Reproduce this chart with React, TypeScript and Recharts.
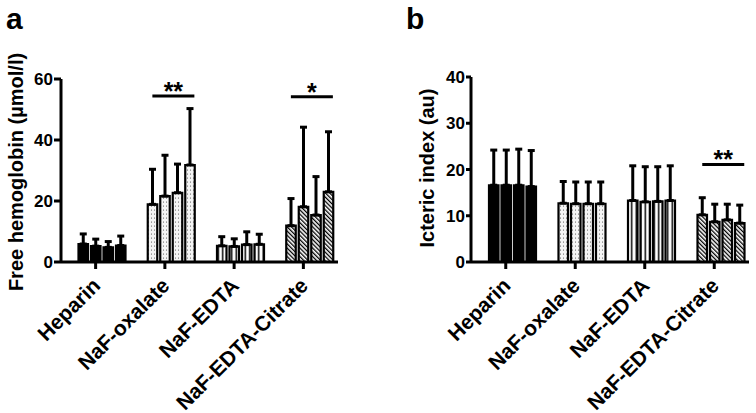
import React from "react";
import { Bar, BarChart, Cell, ErrorBar, ReferenceLine, XAxis, YAxis } from "recharts";

const categories = ["Heparin", "NaF-oxalate", "NaF-EDTA", "NaF-EDTA-Citrate"];

// free hemoglobin (µmol/l), four tubes per additive: mean and SD
const hbMean = [
  [5.9, 5.2, 4.8, 5.4],
  [18.9, 21.6, 22.7, 31.8],
  [5.3, 5.1, 5.7, 5.8],
  [11.9, 18.1, 15.4, 23.0],
];
const hbSd = [
  [3.3, 2.3, 1.9, 3.1],
  [11.5, 13.4, 9.4, 18.5],
  [3.0, 2.5, 4.2, 3.3],
  [8.9, 26.1, 12.6, 19.7],
];

// icteric index (au)
const icMean = [
  [16.6, 16.6, 16.6, 16.3],
  [12.7, 12.6, 12.6, 12.6],
  [13.3, 13.0, 13.1, 13.3],
  [10.2, 8.7, 9.1, 8.4],
];
const icSd = [
  [7.6, 7.6, 7.8, 7.8],
  [4.7, 4.7, 4.7, 4.7],
  [7.5, 7.6, 7.5, 7.5],
  [3.7, 3.8, 3.4, 3.9],
];

const hbTicks = [0, 20, 40, 60];
const icTicks = [0, 10, 20, 30, 40];

const hbSig = [
  { cat: "NaF-oxalate", y: 54.4, label: "**" },
  { cat: "NaF-EDTA-Citrate", y: 54.2, label: "*" },
];
const icSig = [{ cat: "NaF-EDTA-Citrate", y: 21.1, label: "**" }];

const font = "Arial, 'Liberation Sans', sans-serif";
const series = [0, 1, 2, 3];

const buildRows = (means: number[][], sds: number[][]) =>
  categories.map((name, i) => {
    const row: any = { name };
    series.forEach((k) => {
      row[`m${k}`] = means[i][k];
      row[`e${k}`] = [0, sds[i][k]];
    });
    return row;
  });

const CatTick = (props: any) => {
  const { x, y, payload } = props;
  const tx = x + 6;
  const ty = y + 16;
  return (
    <text
      x={tx}
      y={ty}
      transform={`rotate(-45 ${tx} ${ty})`}
      textAnchor="end"
      fontFamily={font}
      fontSize={21}
      fontWeight="bold"
      fill="#000"
    >
      {payload.value}
    </text>
  );
};

const sigShape = (label: string) => (props: any) => {
  const { x1, y1 } = props;
  return (
    <g>
      <line x1={x1 - 19} x2={x1 + 23} y1={y1} y2={y1} stroke="#000" strokeWidth={3} />
      <text x={x1 + 2} y={y1 + 4} textAnchor="middle" fontFamily={font} fontSize={25} fontWeight="bold" fill="#000">
        {label}
      </text>
    </g>
  );
};

type PanelProps = {
  pid: string;
  letter: string;
  ylabel: string;
  labelX: number;
  labelY: number;
  means: number[][];
  sds: number[][];
  ticks: number[];
  sig: { cat: string; y: number; label: string }[];
  left: number;
  width: number;
  margin: { top: number; right: number; left: number; bottom: number };
  yWidth: number;
  tickSize: number;
  shift: number;
};

function Panel(p: PanelProps) {
  const rows = buildRows(p.means, p.sds);
  const fills = ["#000", `url(#${p.pid}-dots)`, `url(#${p.pid}-vert)`, `url(#${p.pid}-diag)`];
  return (
    <div style={{ position: "absolute", left: p.left, top: 0 }}>
      <BarChart width={p.width} height={413} data={rows} margin={p.margin} barGap={3}>
        <defs>
          <pattern id={`${p.pid}-dots`} width={3} height={4} patternUnits="userSpaceOnUse">
            <rect width={3} height={4} fill="#f4f4f4" />
            <circle cx={1.5} cy={2} r={0.55} fill="#444" />
          </pattern>
          <pattern id={`${p.pid}-vert`} width={4.5} height={4} patternUnits="userSpaceOnUse">
            <rect width={4.5} height={4} fill="#fff" />
            <rect x={1.5} width={1.5} height={4} fill="#000" />
          </pattern>
          <pattern id={`${p.pid}-diag`} width={3} height={3} patternUnits="userSpaceOnUse" patternTransform="rotate(-45)">
            <rect width={3} height={3} fill="#fff" />
            <rect width={1.3} height={3} fill="#000" />
          </pattern>
        </defs>
        <text x={6} y={29} fontFamily={font} fontSize={30} fontWeight="bold" fill="#000">
          {p.letter}
        </text>
        <text
          x={p.labelX}
          y={p.labelY}
          transform={`rotate(-90 ${p.labelX} ${p.labelY})`}
          textAnchor="middle"
          fontFamily={font}
          fontSize={20}
          fontWeight="bold"
          fill="#000"
        >
          {p.ylabel}
        </text>
        <XAxis
          dataKey="name"
          interval={0}
          height={100}
          tick={<CatTick />}
          tickSize={7}
          axisLine={{ stroke: "#000", strokeWidth: 3 }}
          tickLine={{ stroke: "#000", strokeWidth: 3 }}
        />
        <XAxis xAxisId="bars" dataKey="name" hide padding={{ left: p.shift, right: -p.shift }} />
        <YAxis
          domain={[0, p.ticks[p.ticks.length - 1]]}
          ticks={p.ticks}
          width={p.yWidth}
          tickSize={p.tickSize}
          tickMargin={1}
          axisLine={{ stroke: "#000", strokeWidth: 3 }}
          tickLine={{ stroke: "#000", strokeWidth: 3 }}
          tick={{ fill: "#000", fontSize: 17, fontWeight: "bold", fontFamily: font }}
        />
        {series.map((k) => (
          <Bar
            key={k}
            dataKey={`m${k}`}
            xAxisId="bars"
            barSize={9.5}
            stroke="#000"
            strokeWidth={2.2}
            isAnimationActive={false}
          >
            {categories.map((c, i) => (
              <Cell key={c} fill={fills[i]} />
            ))}
            <ErrorBar
              dataKey={`e${k}`}
              direction="y"
              width={3.5}
              stroke="#000"
              strokeWidth={3}
              isAnimationActive={false}
            />
          </Bar>
        ))}
        {p.sig.map((s) => (
          <ReferenceLine
            key={s.cat}
            xAxisId="bars"
            segment={[
              { x: s.cat, y: s.y },
              { x: s.cat, y: s.y },
            ]}
            shape={sigShape(s.label)}
          />
        ))}
      </BarChart>
    </div>
  );
}

export default function App() {
  return (
    <div style={{ position: "absolute", left: 0, top: 0, width: 756, height: 413, background: "#fff" }}>
      <Panel
        pid="hb"
        letter="a"
        ylabel="Free hemoglobin (µmol/l)"
        labelX={23}
        labelY={172}
        means={hbMean}
        sds={hbSd}
        ticks={hbTicks}
        sig={hbSig}
        left={0}
        width={400}
        margin={{ top: 79, right: 62, left: 8, bottom: 51 }}
        yWidth={53}
        tickSize={7}
        shift={6.5}
      />
      <Panel
        pid="ic"
        letter="b"
        ylabel="Icteric index (au)"
        labelX={34}
        labelY={168}
        means={icMean}
        sds={icSd}
        ticks={icTicks}
        sig={icSig}
        left={400}
        width={356}
        margin={{ top: 77, right: 7, left: 16, bottom: 51 }}
        yWidth={55}
        tickSize={5}
        shift={7}
      />
    </div>
  );
}
